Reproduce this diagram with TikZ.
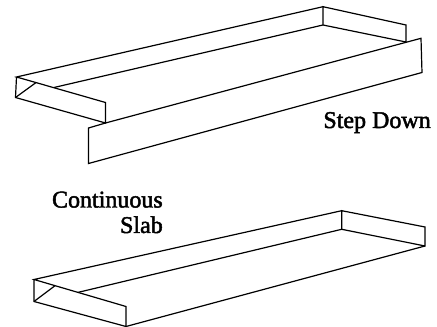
\documentclass[tikz,border=0pt]{standalone}
\usepackage{fontspec}
\setmainfont[FakeBold=2]{Liberation Serif}
\tikzset{edge/.style={draw=black,line width=0.9pt,line join=miter},
 lbl/.style={inner sep=0pt,font=\fontsize{18}{20}\selectfont,text=black}}
\begin{document}
\begin{tikzpicture}[x=0.75pt,y=-0.75pt]
\useasboundingbox (0,0) rectangle (437,327);
% top slab
\coordinate (a) at (16.5,77);
\coordinate (b) at (15.5,97.5);
\coordinate (c) at (105.5,102.5);
\coordinate (d) at (105.5,123);
\coordinate (e) at (323,6.7);
\coordinate (f) at (323,25);
\coordinate (g) at (406,25);
\coordinate (h) at (406,42);
\coordinate (i) at (54,87.5);
\coordinate (j) at (36,82.6);
\coordinate (k) at (421,38.3);
\coordinate (l) at (422,72.5);
\coordinate (m) at (88.5,128);
\coordinate (n) at (88.5,163.5);
\draw[edge] (e) -- (a) -- (c) -- (d) -- (b) -- (a);
\draw[edge] (b) -- (j);
\draw[edge] (i) -- (f) -- (e) -- (g) -- (h) -- (f);
\draw[edge] (d) -- (k) -- (l) -- (n) -- (m) -- (d);
% bottom slab
\coordinate (a2) at (34,279.5);
\coordinate (b2) at (34,301.5);
\coordinate (c2) at (126,306.5);
\coordinate (d2) at (126,326.5);
\coordinate (e2) at (341.7,210.7);
\coordinate (f2) at (341.7,229.3);
\coordinate (g2) at (425,227);
\coordinate (h2) at (425,246);
\coordinate (i2) at (78,292.4);
\coordinate (j2) at (55,285.7);
\draw[edge] (e2) -- (a2) -- (c2) -- (d2) -- (b2) -- (a2);
\draw[edge] (b2) -- (j2);
\draw[edge] (i2) -- (f2) -- (e2) -- (g2) -- (h2) -- (f2);
\draw[edge] (d2) -- (h2);
\node[lbl,anchor=base east] (sd) at (431,128) {Step Down};
\node[lbl,anchor=base east] (c1) at (163,207.5) {Continuous};
\node[lbl,anchor=base east] (c3) at (163,233) {Slab};
\end{tikzpicture}
\end{document}
